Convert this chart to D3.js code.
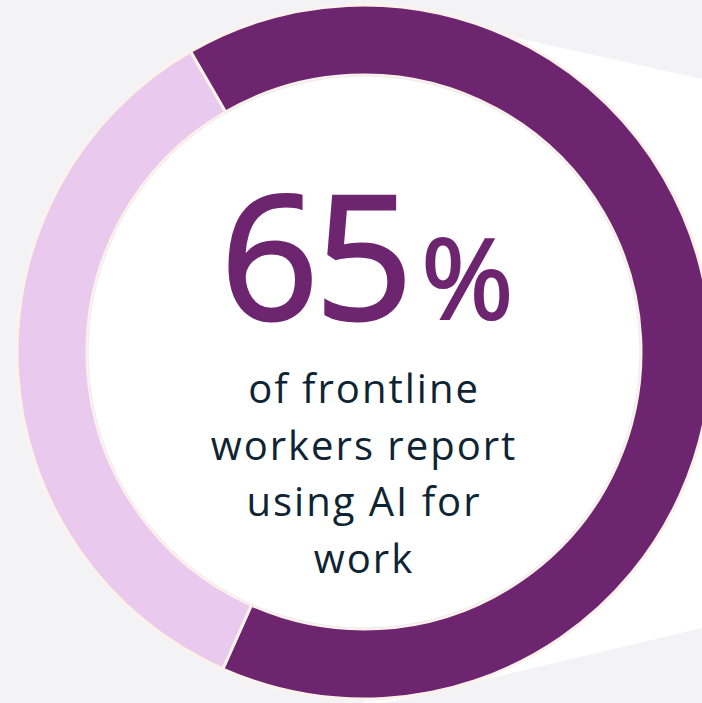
<!DOCTYPE html>
<html>
<head>
<meta charset="utf-8">
<script src="https://cdn.jsdelivr.net/npm/d3@7"></script>
<style>
  html, body { margin: 0; padding: 0; background: #f3f3f5; }
  svg { display: block; }
</style>
</head>
<body>
<svg id="chart"></svg>
<script>
// chart values
const segments = ['Use AI for work', 'Do not'];
const shares = [65, 35];
const headline = '65';
const headlineUnit = '%';
const captionLines = ['of frontline', 'workers report', 'using AI for', 'work'];

const width = 702;
const height = 703;
const cx = 364;
const cy = 352;
const outerR = 347;
const innerR = 277;

const svg = d3.select('#chart')
  .attr('width', width)
  .attr('height', height);

svg.append('rect')
  .attr('width', width)
  .attr('height', height)
  .attr('fill', '#f3f3f5');

// white callout shape behind the ring
svg.append('path')
  .attr('d', d3.line()([[364, 4], [width, 79], [width, 628], [364, 708]]))
  .attr('fill', '#ffffff');

const color = d3.scaleOrdinal()
  .domain(segments)
  .range(['#6d2570', '#eac9ee']);

const pie = d3.pie()
  .sort(null)
  .value(d => d.value)
  .startAngle(-Math.PI / 6)
  .endAngle(-Math.PI / 6 + 2 * Math.PI);

const arc = d3.arc()
  .innerRadius(innerR)
  .outerRadius(outerR);

const data = segments.map((s, i) => ({ name: s, value: shares[i] }));

const g = svg.append('g')
  .attr('transform', `translate(${cx},${cy})`);

g.selectAll('path.slice')
  .data(pie(data))
  .enter().append('path')
  .attr('class', 'slice')
  .attr('d', arc)
  .attr('fill', d => color(d.data.name))
  .attr('stroke', '#fdf2ea')
  .attr('stroke-width', 3)
  .attr('stroke-linejoin', 'miter');

g.append('circle')
  .attr('r', innerR - 1)
  .attr('fill', '#ffffff')
  .attr('stroke', '#ebebf1')
  .attr('stroke-width', 1);

// big number (stroke thickens the regular weight a bit)
const big = g.append('text')
  .attr('x', 3)
  .attr('y', -33)
  .attr('text-anchor', 'middle')
  .attr('fill', '#6d2570')
  .attr('stroke', '#6d2570')
  .attr('stroke-width', 3)
  .style('font-family', '"Open Sans", sans-serif');

big.append('tspan')
  .style('font-size', '172px')
  .style('letter-spacing', '-4px')
  .text(headline);

big.append('tspan')
  .attr('dx', 12)
  .attr('stroke-width', 2)
  .style('font-size', '112px')
  .text(headlineUnit);

g.selectAll('text.caption')
  .data(captionLines)
  .enter().append('text')
  .attr('class', 'caption')
  .attr('x', 0)
  .attr('y', (d, i) => 51 + i * 56.5)
  .attr('text-anchor', 'middle')
  .attr('fill', '#0e2433')
  .style('font-family', '"Open Sans", sans-serif')
  .style('font-size', '40px')
  .style('letter-spacing', '2px')
  .text(d => d);
</script>
</body>
</html>
